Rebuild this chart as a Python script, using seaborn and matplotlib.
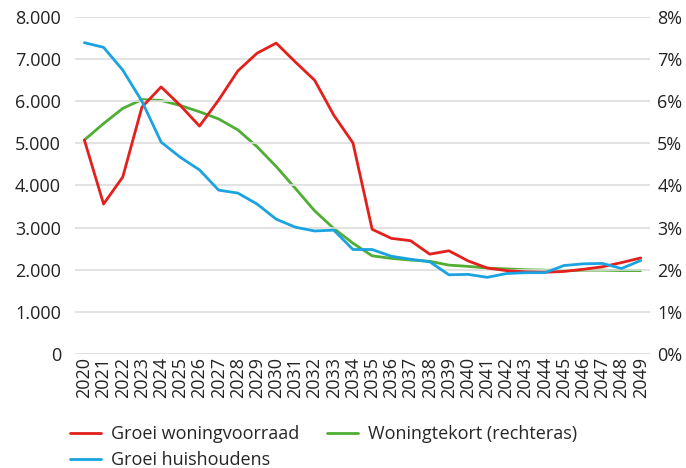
import matplotlib
matplotlib.use("Agg")
import matplotlib.pyplot as plt
import seaborn as sns
import pandas as pd
from matplotlib.ticker import FuncFormatter

years = list(range(2020, 2050))
groei_woningvoorraad = [5080, 3560, 4200, 5860, 6340, 5900, 5410, 6030, 6720, 7140,
                        7380, 6930, 6500, 5670, 5010, 2960, 2745, 2690, 2370, 2450,
                        2210, 2040, 1980, 1950, 1940, 1960, 2010, 2070, 2170, 2280]
groei_huishoudens = [7390, 7280, 6740, 6000, 5030, 4670, 4370, 3890, 3820, 3560,
                     3200, 3010, 2920, 2940, 2480, 2480, 2320, 2250, 2190, 1880,
                     1890, 1820, 1910, 1930, 1930, 2100, 2140, 2150, 2030, 2220]
woningtekort = [5.08, 5.47, 5.83, 6.04, 6.02, 5.90, 5.75, 5.58, 5.32, 4.92,
                4.45, 3.93, 3.40, 2.98, 2.63, 2.33, 2.27, 2.23, 2.20, 2.11,
                2.08, 2.04, 2.02, 2.00, 1.99, 1.98, 1.99, 1.99, 1.98, 1.98]
left_ticks = [0, 1000, 2000, 3000, 4000, 5000, 6000, 7000, 8000]
right_ticks = [0, 1, 2, 3, 4, 5, 6, 7, 8]
labels = ["Groei woningvoorraad", "Groei huishoudens", "Woningtekort (rechteras)"]
colors = ["#e3201b", "#1aa3e0", "#4fae33"]

sns.set_theme(style="white")
plt.rcParams['font.family'] = ['Open Sans', 'DejaVu Sans']

df = pd.DataFrame({"jaar": years, "wv": groei_woningvoorraad,
                   "hh": groei_huishoudens, "wt": woningtekort})

fig = plt.figure(figsize=(6.86, 4.68), dpi=100)
ax = fig.add_axes([0.109, 0.2436, 0.839, 0.7201])
ax2 = ax.twinx()

sns.lineplot(data=df, x="jaar", y="wv", ax=ax, color=colors[0], linewidth=2.0, label=labels[0], legend=False)
sns.lineplot(data=df, x="jaar", y="hh", ax=ax, color=colors[1], linewidth=2.0, label=labels[1], legend=False)
sns.lineplot(data=df, x="jaar", y="wt", ax=ax2, color=colors[2], linewidth=2.0, label=labels[2], legend=False)

ax.set_xlim(years[0] - 0.5, years[-1] + 0.5)
ax.set_ylim(0, 8000)
ax2.set_ylim(0, 8)
ax.set_yticks(left_ticks)
ax2.set_yticks(right_ticks)
ax.yaxis.set_major_formatter(FuncFormatter(lambda v, p: f"{int(v):,}".replace(",", ".")))
ax2.yaxis.set_major_formatter(FuncFormatter(lambda v, p: f"{int(v)}%"))
ax.set_xticks(years)
ax.set_xticklabels([str(y) for y in years], rotation=90)

for a in (ax, ax2):
    for s in a.spines.values():
        s.set_visible(False)
    a.set_xlabel("")
    a.set_ylabel("")
    a.tick_params(axis="both", length=0, labelsize=13, labelcolor="#222222")
ax.tick_params(axis="y", pad=10)
ax2.tick_params(axis="y", pad=5)
ax.tick_params(axis="x", pad=2)
ax.grid(axis="y", color="#dddddd", linewidth=1.2)
ax.set_axisbelow(True)
ax.set_zorder(ax2.get_zorder() + 1)
ax.patch.set_visible(False)

h1, l1 = ax.get_legend_handles_labels()
h2, l2 = ax2.get_legend_handles_labels()
handles = [h1[0], h1[1], h2[0]]
labs = [l1[0], l1[1], l2[0]]
fig.legend(handles, labs, loc="upper left", bbox_to_anchor=(0.102, 0.092), ncol=2,
           frameon=False, fontsize=13, handlelength=1.7, handletextpad=0.6,
           columnspacing=1.5, labelspacing=0.45, borderaxespad=0, borderpad=0)

fig.savefig("out.png", dpi=100)
